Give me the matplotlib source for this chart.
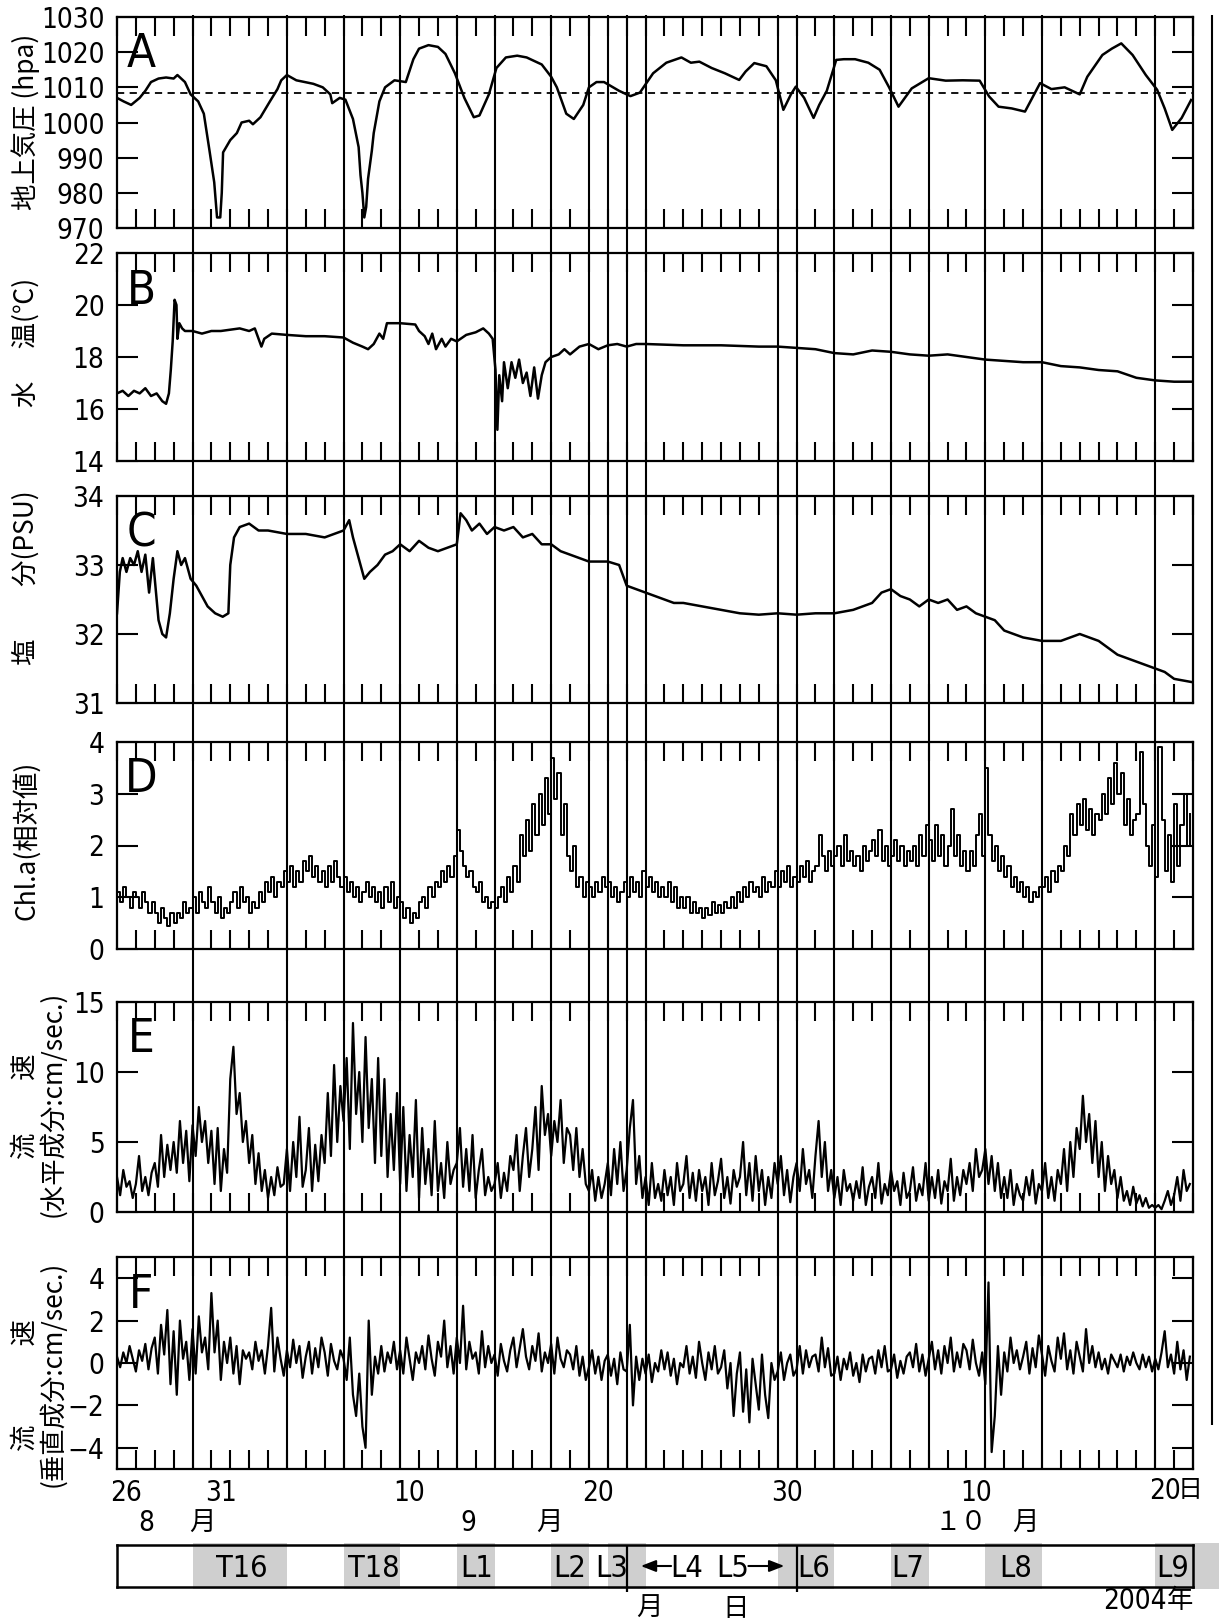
import numpy as np
import matplotlib
matplotlib.use('Agg')
import matplotlib.pyplot as plt
from matplotlib import font_manager as fm
from matplotlib.patches import Rectangle

# ---------------- data (day 0 = 26 Aug 2004 00:00) ----------------
pressure_day = [0, 0.35, 0.75, 1.2, 1.5, 1.8, 2.2, 2.6, 3.0, 3.2, 3.6, 3.9, 4.3, 4.6, 4.9, 5.15, 5.3, 5.47,
                5.55, 5.62, 6.0, 6.35, 6.6, 7.0, 7.2, 7.6, 8.1, 8.5, 8.7, 9.0, 9.5, 10.4, 10.9, 11.3, 11.4,
                11.8, 12.1, 12.5, 12.8, 12.9, 13.0, 13.1, 13.2, 13.3, 13.5, 13.6, 13.9, 14.2, 14.7, 15.3,
                15.7, 16.0, 16.5, 17.0, 17.4, 17.9, 18.4, 18.9, 19.2, 19.7, 20.1, 20.6, 21.2, 21.7, 22.5,
                23.0, 23.3, 23.8, 24.2, 24.7, 25.0, 25.4, 25.8, 26.6, 27.2, 27.7, 28.4, 29.1, 29.9, 30.4,
                30.85, 31.5, 32.2, 32.96, 33.3, 33.76, 34.4, 34.9, 35.3, 35.7, 35.96, 36.4, 36.9, 37.2,
                37.6, 38.1, 38.5, 39.1, 39.8, 40.4, 40.9, 41.4, 42.1, 43.0, 43.9, 44.8, 45.7, 46.2, 46.7,
                47.4, 48.1, 48.9, 49.5, 50.2, 51.0, 51.4, 52.2, 52.7, 53.2, 53.8, 54.5, 55.1, 55.5, 55.9,
                56.4, 56.9]
pressure_hpa = [1007, 1006, 1005, 1007, 1009, 1011.5, 1012.5, 1012.8, 1012.5, 1013.5, 1011.5, 1008, 1006,
                1002.5, 992, 983, 973, 973, 980, 991.5, 995, 997, 1000, 1000.5, 999.5, 1001.5, 1006, 1009.5,
                1012, 1013.5, 1012, 1011, 1010, 1008, 1005.5, 1007, 1006.5, 1001, 993, 985, 980, 973, 976,
                984, 992, 997, 1006, 1010, 1012, 1011.5, 1018, 1021, 1022, 1021.5, 1019.5, 1014, 1007,
                1001.5, 1002, 1008, 1015.5, 1018.5, 1019, 1018.5, 1016.5, 1013, 1010, 1002.5, 1001, 1005,
                1010, 1011.5, 1011.5, 1009, 1007.5, 1008.5, 1014, 1017, 1018.5, 1017, 1017.3, 1015.5, 1014,
                1012.1, 1014.5, 1016.9, 1016, 1012, 1003.6, 1008, 1010.2, 1007, 1001.3, 1005, 1009, 1017.8,
                1018, 1018, 1017, 1015, 1010, 1004.5, 1009.7, 1012.6, 1011.9, 1012, 1011.9, 1007.4, 1004.5,
                1004, 1003.1, 1011.2, 1009.5, 1010, 1008, 1013, 1019.2, 1021, 1022.5, 1019.2, 1013.5,
                1009.3, 1004, 997.9, 1001.3, 1006.4]
pressure_ref = 1008.5

temp_day = [0, 0.3, 0.6, 0.9, 1.2, 1.5, 1.8, 2.1, 2.4, 2.6, 2.75, 2.85, 2.95, 3.05, 3.15, 3.2, 3.3, 3.45,
            3.6, 4.0, 4.5, 5.0, 5.5, 6.0, 6.5, 7.0, 7.3, 7.5, 7.65, 7.8, 8.2, 9.0, 10.0, 11.0, 12.0, 12.5,
            13.0, 13.3, 13.6, 13.9, 14.1, 14.3, 15.0, 15.8, 16.0, 16.3, 16.5, 16.7, 16.9, 17.2, 17.4, 17.7,
            18.0, 18.5, 19.0, 19.4, 19.7, 19.9, 20.05, 20.15, 20.25, 20.4, 20.5, 20.7, 20.9, 21.1, 21.3,
            21.5, 21.7, 21.9, 22.1, 22.3, 22.5, 22.7, 23.0, 23.4, 23.7, 24.0, 24.5, 25.0, 25.5, 26.0, 26.5,
            27.0, 27.5, 28, 30, 32, 34, 35, 36, 37, 38, 39, 40, 41, 42, 43, 44, 45, 46, 47, 48, 49, 50, 51,
            52, 53, 54, 55, 56, 57]
temp_c = [16.6, 16.7, 16.5, 16.7, 16.6, 16.8, 16.5, 16.6, 16.3, 16.2, 16.6, 17.5, 18.6, 20.2, 20.0, 18.7,
          19.3, 19.1, 19.0, 19.0, 18.9, 19.0, 19.0, 19.05, 19.1, 19.0, 19.1, 18.7, 18.4, 18.7, 18.9, 18.85,
          18.8, 18.8, 18.75, 18.55, 18.4, 18.3, 18.5, 18.9, 18.7, 19.3, 19.3, 19.25, 19.0, 18.8, 18.5, 18.9,
          18.3, 18.7, 18.4, 18.7, 18.6, 18.85, 18.95, 19.1, 18.9, 18.7, 17.5, 15.2, 17.3, 16.3, 17.8, 16.8,
          17.8, 17.2, 17.9, 17.0, 17.4, 16.5, 17.6, 16.4, 17.3, 17.8, 18.0, 18.1, 18.3, 18.1, 18.4, 18.5,
          18.3, 18.45, 18.5, 18.4, 18.5, 18.5, 18.45, 18.45, 18.4, 18.4, 18.35, 18.3, 18.15, 18.1, 18.25,
          18.2, 18.1, 18.05, 18.1, 18.0, 17.9, 17.85, 17.8, 17.8, 17.65, 17.6, 17.5, 17.45, 17.2, 17.1,
          17.05, 17.05]

sal_day = [0, 0.15, 0.3, 0.5, 0.7, 0.9, 1.1, 1.3, 1.5, 1.7, 1.9, 2.0, 2.2, 2.4, 2.6, 2.8, 3.0, 3.2, 3.4,
           3.6, 3.9, 4.2, 4.5, 4.8, 5.2, 5.6, 5.9, 6.0, 6.2, 6.5, 7.0, 7.5, 8.0, 9.0, 10, 11, 11.5, 12,
           12.3, 12.5, 12.8, 13.1, 13.4, 13.8, 14.2, 14.6, 15.0, 15.5, 16, 16.5, 17, 17.5, 18.0, 18.2,
           18.5, 18.8, 19.2, 19.6, 20, 20.5, 21, 21.5, 22, 22.5, 23, 23.5, 24, 24.5, 25, 26, 26.6, 27.0,
           27.5, 28, 28.5, 29, 29.5, 30, 31, 32, 33, 34, 35, 36, 37, 38, 39, 40, 40.5, 41, 41.5, 42,
           42.5, 43, 43.5, 44, 44.5, 45, 45.5, 46, 46.5, 47, 47.5, 48, 49, 50, 50.5, 51, 51.5, 52, 52.5,
           53, 54, 55, 55.5, 56, 57]
sal_psu = [32.3, 32.9, 33.1, 32.9, 33.1, 33.0, 33.2, 32.9, 33.15, 32.6, 33.1, 32.8, 32.2, 32.0, 31.95,
           32.3, 32.8, 33.2, 33.0, 33.1, 32.8, 32.7, 32.55, 32.4, 32.3, 32.25, 32.3, 33.0, 33.4, 33.55,
           33.6, 33.5, 33.5, 33.45, 33.45, 33.4, 33.45, 33.5, 33.65, 33.4, 33.1, 32.8, 32.9, 33.0, 33.15,
           33.2, 33.3, 33.2, 33.35, 33.25, 33.2, 33.25, 33.3, 33.75, 33.65, 33.5, 33.6, 33.45, 33.55,
           33.5, 33.55, 33.4, 33.45, 33.3, 33.3, 33.2, 33.15, 33.1, 33.05, 33.05, 33.0, 32.7, 32.65,
           32.6, 32.55, 32.5, 32.45, 32.45, 32.4, 32.35, 32.3, 32.28, 32.3, 32.28, 32.3, 32.3, 32.35,
           32.45, 32.6, 32.65, 32.55, 32.5, 32.4, 32.5, 32.45, 32.5, 32.35, 32.4, 32.3, 32.25, 32.2,
           32.05, 32.0, 31.95, 31.9, 31.9, 31.95, 32.0, 31.95, 31.9, 31.8, 31.7, 31.6, 31.5, 31.45,
           31.35, 31.3]

# six readings per day (every 4 h)
chl_a = [
    1.1, 0.9, 1.2, 1.0, 0.8, 1.1,  1.0, 0.8, 1.1, 0.9, 0.7, 0.9,  0.7, 0.5, 0.8, 0.6, 0.45, 0.7,
    0.5, 0.7, 0.6, 0.9, 0.7, 0.8,  1.0, 0.7, 1.1, 0.9, 0.8, 1.2,  0.9, 0.7, 1.0, 0.6, 0.8, 0.7,
    0.9, 1.1, 0.8, 1.2, 0.9, 1.0,  0.7, 0.9, 0.8, 1.1, 0.9, 1.3,  1.1, 1.4, 1.0, 1.3, 1.2, 1.5,
    1.3, 1.6, 1.2, 1.5, 1.3, 1.7,  1.5, 1.8, 1.4, 1.6, 1.3, 1.5,  1.2, 1.6, 1.3, 1.7, 1.4, 1.2,
    1.4, 1.1, 1.3, 1.0, 1.2, 0.9,  1.1, 1.3, 1.0, 1.2, 0.9, 1.1,  0.8, 1.2, 0.9, 1.3, 0.8, 1.0,
    0.9, 0.6, 0.8, 0.5, 0.7, 0.6,  0.9, 1.0, 0.8, 1.2, 1.0, 1.3,  1.2, 1.5, 1.3, 1.6, 1.4, 1.8,
    2.3, 1.9, 1.6, 1.4, 1.5, 1.2,  1.1, 1.3, 0.9, 1.0, 0.8, 0.9,  0.8, 1.0, 1.2, 0.9, 1.4, 1.1,
    1.6, 1.3, 2.2, 1.8, 2.5, 1.9,  2.8, 2.2, 3.0, 2.4, 3.3, 2.6,  3.7, 2.9, 3.4, 2.2, 2.8, 1.8,
    1.5, 2.0, 1.2, 1.4, 1.0, 1.3,  1.2, 1.0, 1.3, 1.1, 1.4, 1.2,  1.3, 1.0, 1.2, 0.9, 1.1, 1.3,
    1.0, 1.4, 1.1, 1.3, 1.0, 1.5,  1.2, 1.4, 1.1, 1.3, 1.0, 1.2,  1.0, 1.3, 0.9, 1.2, 0.8, 1.0,
    0.8, 1.0, 0.7, 0.9, 0.7, 0.8,  0.6, 0.8, 0.65, 0.9, 0.7, 0.85, 0.7, 0.9, 0.8, 1.0, 0.8, 1.1,
    0.9, 1.2, 1.0, 1.3, 1.1, 1.2,  1.0, 1.4, 1.1, 1.3, 1.2, 1.5,  1.2, 1.5, 1.3, 1.6, 1.2, 1.4,
    1.3, 1.6, 1.4, 1.7, 1.3, 1.5,  1.6, 2.2, 1.8, 1.5, 1.9, 1.6,  1.8, 2.0, 1.6, 2.2, 1.7, 1.9,
    1.6, 1.8, 1.5, 2.0, 1.7, 1.9,  2.1, 1.8, 2.3, 1.7, 2.0, 1.6,  1.8, 2.1, 1.7, 2.0, 1.6, 1.9,
    1.7, 2.0, 1.6, 2.2, 1.8, 2.4,  2.1, 1.7, 2.4, 1.8, 2.2, 1.6,  2.0, 2.7, 1.8, 2.2, 1.6, 1.9,
    1.5, 1.9, 1.6, 2.2, 2.6, 1.8,  3.5, 2.2, 1.7, 2.0, 1.5, 1.8,  1.4, 1.6, 1.2, 1.4, 1.1, 1.3,
    1.0, 1.2, 0.9, 1.1, 1.0, 1.2,  1.2, 1.4, 1.1, 1.5, 1.3, 1.6,  1.5, 2.0, 1.8, 2.6, 2.2, 2.8,
    2.4, 2.9, 2.3, 2.7, 2.2, 2.6,  2.5, 3.0, 2.6, 3.3, 2.8, 3.6,  3.0, 3.4, 2.4, 2.9, 2.2, 2.5,
    2.6, 3.8, 2.8, 2.0, 1.6, 2.4,  1.4, 3.9, 2.5, 1.5, 2.2, 1.3,  2.8, 1.6, 2.4, 3.0, 2.0, 2.6]

speed_h = [
    2.5, 1.2, 3.0, 1.8, 2.2, 1.0,  2.0, 4.0, 1.5, 2.5, 1.2, 2.8,  3.5, 1.8, 5.5, 2.5, 4.8, 3.0,
    5.0, 2.8, 6.5, 3.5, 5.8, 2.2,  6.2, 4.0, 7.5, 5.0, 6.5, 3.5,  5.8, 2.0, 6.0, 1.5, 4.5, 2.8,
    9.5, 11.8, 7.0, 8.5, 5.0, 6.5, 3.5, 5.5, 2.0, 4.2, 1.5, 3.0,  1.0, 2.5, 1.2, 3.2, 1.8, 2.0,
    4.5, 1.5, 5.0, 2.5, 6.8, 1.8,  3.0, 6.0, 1.5, 4.8, 2.2, 5.5,  3.5, 8.5, 4.0, 10.5, 5.0, 9.0,
    6.5, 11.0, 4.5, 13.5, 7.0, 10.0, 5.0, 12.5, 6.0, 9.5, 3.5, 11.0, 4.0, 9.5, 2.5, 7.0, 3.0, 8.5,
    2.0, 7.5, 1.5, 5.5, 2.5, 8.0,  1.0, 6.0, 2.0, 4.5, 1.2, 6.5,  1.5, 3.5, 1.0, 5.0, 2.0, 3.0,
    3.5, 6.0, 1.8, 4.5, 1.5, 5.5,  1.0, 3.0, 4.5, 1.2, 2.5, 1.5,  2.0, 3.5, 1.0, 2.8, 1.5, 4.0,
    3.0, 5.5, 1.5, 4.0, 6.0, 2.5,  4.5, 7.5, 3.0, 9.0, 5.5, 7.0,  4.0, 6.5, 5.0, 8.0, 3.5, 6.0,
    5.5, 3.0, 6.0, 2.5, 4.5, 2.0,  1.5, 3.0, 0.8, 2.5, 1.0, 2.0,  3.5, 1.2, 4.5, 2.0, 5.0, 1.5,
    3.0, 6.0, 8.0, 2.0, 4.0, 1.0,  2.5, 0.5, 3.5, 1.0, 2.0, 0.8,  3.0, 1.2, 2.5, 0.5, 3.5, 1.5,
    2.0, 4.0, 1.0, 2.8, 0.8, 3.0,  1.5, 2.5, 0.5, 3.5, 1.2, 2.2,  3.8, 1.0, 2.5, 0.6, 3.0, 1.8,
    2.5, 5.0, 1.2, 3.5, 0.8, 4.0,  1.5, 3.0, 0.5, 2.5, 1.0, 3.5,  2.0, 4.0, 1.2, 3.0, 0.7, 2.5,
    3.5, 1.5, 4.5, 2.0, 3.0, 1.0,  4.0, 6.5, 2.5, 5.0, 1.5, 3.0,  1.0, 2.5, 0.5, 3.0, 1.5, 2.0,
    0.8, 2.2, 1.0, 3.2, 0.5, 1.8,  2.5, 1.0, 3.5, 0.6, 2.0, 1.2,  3.0, 1.5, 2.2, 0.5, 2.8, 1.0,
    1.5, 3.2, 0.8, 2.0, 1.2, 3.5,  0.8, 2.5, 1.0, 3.0, 0.6, 2.2,  1.5, 3.8, 0.8, 2.5, 1.2, 3.0,
    2.0, 3.5, 1.5, 4.5, 2.5, 3.0,  4.5, 2.0, 4.0, 1.5, 3.5, 1.0,  2.5, 1.0, 3.0, 0.5, 2.0, 1.2,
    0.8, 2.5, 1.2, 3.0, 0.6, 2.0,  1.5, 3.5, 1.0, 2.5, 0.8, 3.0,  2.0, 4.5, 1.5, 5.0, 2.5, 6.0,
    4.5, 8.3, 5.0, 7.0, 3.5, 6.5,  2.5, 5.0, 1.5, 4.0, 2.0, 3.0,  1.0, 2.5, 0.8, 1.5, 0.5, 1.8,
    0.6, 1.2, 0.4, 1.0, 0.3, 0.5,  0.3, 0.5, 0.2, 0.8, 1.5, 0.5,  1.2, 2.5, 0.8, 3.0, 1.5, 2.0]

speed_v = [
    0.3, -0.2, 0.5, 0.0, 0.8, 0.2,  -0.4, 0.6, 0.1, 0.9, -0.3, 0.7,  1.2, -0.5, 1.8, 0.4, 2.5, -1.0,
    1.5, -1.5, 2.0, 0.2, 1.0, -0.8,  1.6, -0.5, 2.2, 0.5, 1.2, -0.3,  3.3, 0.5, 2.0, -0.8, 1.0, 0.0,
    1.2, -0.5, 0.8, -1.0, 0.6, 0.2,  0.5, -0.3, 1.0, 0.1, 0.6, -0.5,  0.8, 2.6, -0.4, 1.2, 0.2, -0.6,
    0.6, -0.2, 1.1, 0.0, 0.8, -0.7,  0.3, 1.0, -0.5, 0.7, -0.2, 1.2,  0.5, -0.6, 0.9, 0.1, -0.3, 0.6,
    0.2, -0.8, 1.2, -1.5, -2.5, -0.5, -3.0, -4.0, 2.0, -1.5, 0.3, -0.5, 0.8, -0.4, 0.5, 0.0, 1.0, -0.3,
    0.6, -0.5, 1.2, 0.2, -0.8, 0.5,  0.0, 0.8, -0.3, 1.3, 0.2, -0.6,  1.0, 0.3, 2.0, -0.2, 0.8, -0.5,
    1.2, 0.0, 2.7, -0.3, 1.0, 0.2,  0.5, -0.5, 1.5, -0.2, 0.8, 0.0,  0.4, -0.6, 0.9, 0.1, -0.4, 0.6,
    1.2, -0.2, 0.7, 1.6, 0.3, -0.3,  0.8, 0.1, 1.4, -0.4, 0.5, 0.0,  0.9, -0.5, 1.2, 0.2, -0.2, 0.6,
    0.4, -0.3, 0.8, -0.6, 0.3, -0.8,  -0.2, 0.6, -0.5, 0.3, -0.8, 0.1, 0.4, -0.6, 0.2, -1.0, 0.5, -0.3,
    -0.4, 1.8, -2.0, 0.3, -0.8, 0.2, -0.5, 0.4, -0.9, 0.0, -0.4, 0.6, -0.3, 0.5, -0.6, 0.2, -1.0, 0.0,
    -0.2, 0.8, -0.5, 0.3, -0.7, 1.0, 0.0, -0.8, 0.5, -0.3, 0.8, -0.5, -0.2, 0.6, -1.2, 0.0, -2.5, -0.5,
    0.5, -2.3, -0.3, -2.8, 0.2, -1.0, -2.2, 0.4, -1.5, -2.6, 0.0, -0.8, -0.4, 0.5, -0.8, 0.0, 0.4, -0.6,
    -0.3, 0.8, -0.5, 0.6, -0.2, 0.3, 0.4, -0.4, 1.2, -0.2, 0.7, -0.6, -0.5, 0.3, -0.8, 0.2, -0.3, 0.5,
    -0.6, 0.0, -0.9, 0.4, -0.4, 0.2, 0.3, -0.5, 0.6, -0.2, 0.8, -0.4, -0.3, 0.4, -0.7, 0.1, -0.5, 0.3,
    0.5, -0.2, 0.9, -0.4, 0.4, -0.6, 0.2, 1.0, -0.3, 0.6, -0.5, 0.8,  0.0, 1.2, -0.4, 0.5, -0.2, 0.9,
    0.6, -0.3, 1.1, 0.0, -0.6, 0.5, -1.0, 3.8, -4.2, -2.5, 0.8, -1.5,  0.5, -0.4, 1.2, 0.0, 0.6, -0.3,
    0.3, 1.0, -0.5, 0.7, -0.2, 1.3,  0.4, -0.6, 0.8, 0.1, -0.4, 1.2,  0.2, 1.4, -0.3, 0.6, -0.5, 1.0,
    0.3, -0.4, 1.6, 0.0, 0.8, -0.2,  0.5, -0.3, 0.2, -0.5, 0.4, 0.1, -0.2, 0.4, -0.4, 0.3, -0.1, 0.5,
    0.0, -0.3, 0.4, -0.2, 0.3, -0.4,  0.2, -0.3, 0.5, 1.5, -0.2, 0.4, -0.5, 1.0, -0.3, 0.6, -0.8, 0.3]

event_days = [4, 9, 12, 15, 18, 20, 23, 25, 26, 27, 28, 35, 36, 38, 41, 43, 46, 49, 55]
end_day = 58
period_spans = [(4, 9), (12, 15), (18, 20), (23, 25), (26, 28), (35, 38), (41, 43), (46, 49), (55, 58.4)]
period_names = ['T16', 'T18', 'L1', 'L2', 'L3', 'L4', 'L5', 'L6', 'L7', 'L8', 'L9']
period_name_x = [6.6, 13.6, 19.05, 24.0, 26.2, 30.2, 32.6, 36.9, 41.9, 47.6, 55.9]
bar_dividers = [27, 36]
day_tick_pos = [0.5, 5.5, 15.5, 25.5, 35.5, 45.5, 55.5]
day_tick_lab = ['26', '31', '10', '20', '30', '10', '20']
n_days = 57

# ---------------- fonts ----------------
def narrow_font():
    try:
        p = fm.findfont(fm.FontProperties(family='Liberation Sans Narrow'), fallback_to_default=False)
        if 'Narrow' in p:
            return fm.FontProperties(fname=p)
    except Exception:
        pass
    try:
        p = fm.findfont(fm.FontProperties(family='DejaVu Sans', stretch='condensed'))
        if 'Condensed' in p:
            return fm.FontProperties(fname=p)
    except Exception:
        pass
    return fm.FontProperties(family='Liberation Sans')

NARROW = narrow_font()
JP = 'Noto Sans CJK JP'
plt.rcParams['font.family'] = ['Liberation Sans', JP, 'DejaVu Sans']

def nf(size):
    f = NARROW.copy()
    f.set_size(size)
    return f

W, H = 1219, 1621
fig = plt.figure(figsize=(W / 100, H / 100), dpi=100)
fig.patch.set_facecolor('white')

L, R = 117, 1193

def rect(top, bottom):
    return [L / W, 1 - bottom / H, (R - L) / W, (bottom - top) / H]

panels = [
    ('A', (17, 228), (970, 1030), np.arange(970, 1031, 10)),
    ('B', (253, 461), (14, 22), np.arange(14, 23, 2)),
    ('C', (496, 703), (31, 34), np.arange(31, 35, 1)),
    ('D', (742, 949), (0, 4), np.arange(0, 5, 1)),
    ('E', (1002, 1212), (0, 15), np.arange(0, 16, 5)),
    ('F', (1257, 1469), (-5, 5), np.arange(-4, 5, 2)),
]

t6 = np.arange(len(chl_a)) / 6.0
series = {
    'A': (pressure_day, pressure_hpa, 'default', 1.8),
    'B': (temp_day, temp_c, 'default', 1.8),
    'C': (sal_day, sal_psu, 'default', 1.8),
    'D': (t6, chl_a, 'steps-post', 1.4),
    'E': (t6, speed_h, 'default', 1.6),
    'F': (t6, speed_v, 'default', 1.6),
}

TICK = 20
axes = {}
for name, (top, bot), ylim, yt in panels:
    ax = fig.add_axes(rect(top, bot))
    axes[name] = ax
    x, y, ds, lw = series[name]
    ax.plot(x, y, color='black', lw=lw, drawstyle=ds)
    ax.set_xlim(0, n_days)
    ax.set_ylim(*ylim)
    ax.set_yticks(yt)
    ax.set_yticklabels([str(v).replace('-', '\u2212') for v in yt], fontproperties=nf(TICK))
    ax.set_xticks(np.arange(0, n_days + 1, 1))
    ax.set_xticklabels([])
    ax.tick_params(axis='both', which='major', direction='in', length=15, width=1.5,
                   top=True, right=True, pad=9)
    ax.tick_params(axis='x', which='major', length=14)
    for s in ax.spines.values():
        s.set_linewidth(1.6)
    ax.annotate(name, xy=(0, 1), xycoords='axes fraction', xytext=(24, -38),
                textcoords='offset pixels', ha='center', va='center', fontproperties=nf(34))

axes['A'].axhline(pressure_ref, color='black', lw=1.3, ls=(0, (4, 3)))

axF = axes['F']
axF.set_xticks(day_tick_pos[:-1], day_tick_lab[:-1], minor=True, fontproperties=nf(TICK))
axF.tick_params(axis='x', which='minor', length=0, pad=7, labelbottom=True)
axF.text(day_tick_pos[-1], -0.04, day_tick_lab[-1], transform=axF.get_xaxis_transform(),
         ha='center', va='top', fontproperties=nf(TICK))
axF.text(day_tick_pos[-1] + 0.7, -0.04, '日', transform=axF.get_xaxis_transform(),
         ha='left', va='top', fontsize=18, family=JP)

# vertical event lines through all panels
ov = fig.add_axes([L / W, 1 - 1469 / H, (R - L) / W, (1469 - 15) / H], zorder=10)
ov.set_xlim(0, n_days)
ov.set_ylim(0, 1)
ov.axis('off')
ov.patch.set_visible(False)
ov.vlines(event_days, 0, 1, color='black', lw=1.5)
ov.vlines([end_day], 0.03, 1, color='black', lw=1.5, clip_on=False)

# period bar
bar = fig.add_axes(rect(1545, 1587))
bar.set_xlim(0, n_days)
bar.set_ylim(0, 1)
bar.set_xticks([])
bar.set_yticks([])
for s in bar.spines.values():
    s.set_linewidth(1.8)
for a, b in period_spans:
    bar.add_patch(Rectangle((a, -0.05), b - a, 1.1, facecolor='#cfcfcf', edgecolor='none',
                            clip_on=False, zorder=0))
bar.vlines(bar_dividers, -0.12, 1, color='black', lw=1.6, clip_on=False)
for nm, xp in zip(period_names, period_name_x):
    bar.text(xp, 0.45, nm, ha='center', va='center', fontproperties=nf(22))
bar.annotate('', xy=(27.6, 0.5), xytext=(29.5, 0.5),
             arrowprops=dict(arrowstyle='-|>,head_length=0.9,head_width=0.35', color='black', lw=1.5))
bar.annotate('', xy=(35.5, 0.5), xytext=(33.3, 0.5),
             arrowprops=dict(arrowstyle='-|>,head_length=0.9,head_width=0.35', color='black', lw=1.5))

def fx(px):
    return px / W

def fy(py):
    return 1 - py / H

# month labels
for s, px in [('8', 146.5), ('9', 468.5)]:
    fig.text(fx(px), fy(1523), s, ha='center', va='center', fontproperties=nf(TICK))
for s, px in [('月', 202), ('月', 549), ('１０', 961), ('月', 1025)]:
    fig.text(fx(px), fy(1523), s, ha='center', va='center', fontsize=19, family=JP)
fig.text(fx(649), fy(1608), '月', ha='center', va='center', fontsize=19, family=JP)
fig.text(fx(736), fy(1608), '日', ha='center', va='center', fontsize=19, family=JP)
fig.text(fx(1167), fy(1601), '2004', ha='right', va='center', fontproperties=nf(TICK))
fig.text(fx(1167), fy(1601), '年', ha='left', va='center', fontsize=19, family=JP)

# y labels
ylab = dict(rotation=90, ha='center', va='center', fontsize=19, family=JP)
fig.text(fx(26), fy(122), '地上気圧 (hpa)', **ylab)
fig.text(fx(26), fy(342), '水\u3000 温(℃)', **ylab)
fig.text(fx(26), fy(578), '塩\u3000\u3000分(PSU)', **ylab)
fig.text(fx(26), fy(840), 'Chl.a(相対値)', **ylab)
fig.text(fx(25), fy(1106), '流\u3000\u3000速', **ylab)
fig.text(fx(53), fy(1104), '(水平成分:cm/sec.)', **ylab)
fig.text(fx(25), fy(1385), '流\u3000\u3000\u3000速', **ylab)
fig.text(fx(53), fy(1374), '(垂直成分:cm/sec.)', **ylab)

fig.savefig('out.png', dpi=100, facecolor='white')
